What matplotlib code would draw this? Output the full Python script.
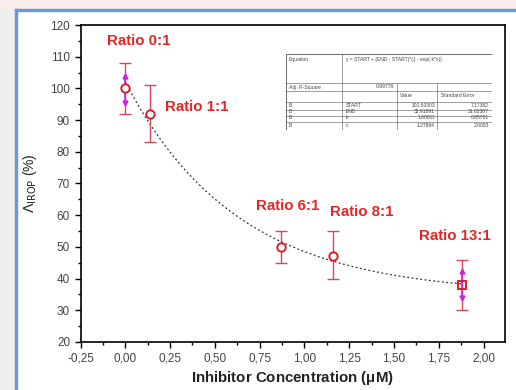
import numpy as np
import matplotlib
matplotlib.use('Agg')
import matplotlib.pyplot as plt
from matplotlib.ticker import MultipleLocator, FuncFormatter
from matplotlib.patches import Rectangle

plt.rcParams['font.family'] = ['Liberation Sans', 'DejaVu Sans']

# data
conc = [0.0, 0.14, 0.87, 1.16, 1.88]
activity = [100, 92, 50, 47, 38]
err_hi = [8, 9, 5, 8, 8]
err_lo = [8, 9, 5, 7, 8]
labels = ['Ratio 0:1', 'Ratio 1:1', 'Ratio 6:1', 'Ratio 8:1', 'Ratio 13:1']
label_x = [-0.10, 0.22, 0.73, 1.145, 1.64]
label_y = [115, 94, 63, 61, 53.5]

# exponential decay fit (start, end, rate)
fit_start, fit_end, fit_k = 102, 35, 1.6

# magenta arrows (x, low, high)
arrow_x = [0.0, 1.88]
arrow_lo = [95.5, 34]
arrow_hi = [104, 42.5]

fig = plt.figure(figsize=(5.16, 3.9), dpi=100, facecolor='white')

# screenshot frame around the chart
fig.patches.append(Rectangle((0, 0), 15 / 516, 1, transform=fig.transFigure,
                             color='#efefef', zorder=0))
fig.patches.append(Rectangle((0, 1 - 9 / 390), 1, 9 / 390, transform=fig.transFigure,
                             color='#f8ede8', zorder=0))
fig.patches.append(Rectangle((15 / 516, 0), 2 / 516, 1 - 9 / 390, transform=fig.transFigure,
                             color='#6a9ade', zorder=1))
fig.patches.append(Rectangle((15 / 516, 1 - 11 / 390), 1, 2 / 390, transform=fig.transFigure,
                             color='#6a9ade', zorder=1))

ax = fig.add_axes([80.5 / 516, 48 / 390, 424.5 / 516, 317 / 390])

xs = np.linspace(conc[0], conc[-1], 200)
ax.plot(xs, fit_end + (fit_start - fit_end) * np.exp(-fit_k * xs),
        ls=(0, (1.5, 2)), color='#333333', lw=0.9, zorder=2)

for i, (x, y) in enumerate(zip(conc, activity)):
    ax.errorbar(x, y, yerr=[[err_lo[i]], [err_hi[i]]], fmt='none',
                ecolor='#d04a5a', elinewidth=1.0, capsize=4, capthick=1.0, zorder=3)

for x, lo, hi in zip(arrow_x, arrow_lo, arrow_hi):
    ax.plot([x, x], [lo, hi], color='#d020e0', lw=1.2, zorder=4)
    ax.plot(x, hi, marker='^', color='#d020e0', ms=3.5, zorder=4)
    ax.plot(x, lo, marker='v', color='#d020e0', ms=3.5, zorder=4)

ax.plot(conc[:-1], activity[:-1], 'o', mfc='white', mec='#d8202a', mew=1.4, ms=6, zorder=5)
ax.plot(conc[-1:], activity[-1:], 's', mfc='none', mec='#d8202a', mew=1.4, ms=5.5, zorder=5)

for t, x, y in zip(labels, label_x, label_y):
    ax.text(x, y, t, color='#e52424', fontsize=10.8, fontweight='bold',
            va='center', ha='left', zorder=6)

ax.set_xlim(-0.25, 2.12)
ax.set_ylim(20, 120)
ax.xaxis.set_major_locator(MultipleLocator(0.25))
ax.xaxis.set_minor_locator(MultipleLocator(0.125))
ax.yaxis.set_major_locator(MultipleLocator(10))
ax.yaxis.set_minor_locator(MultipleLocator(5))
ax.xaxis.set_major_formatter(FuncFormatter(lambda v, p: f'{v:.2f}'.replace('.', ',')))
ax.tick_params(which='major', direction='out', length=4, width=1, labelsize=8.5,
               labelcolor='#444444')
ax.tick_params(which='minor', direction='out', length=2.5, width=1)
for s in ax.spines.values():
    s.set_linewidth(1.2)

ax.set_xlabel('Inhibitor Concentration ($\\mathregular{\\mu}$M)', fontsize=10.8,
              fontweight='bold', color='#222222', labelpad=3)
ax.set_ylabel(r'$\Lambda_{\mathrm{IROP}}$ (%)', fontsize=10, color='#222222', labelpad=8)

# fit results table inset
tab = fig.add_axes([286 / 516, 1 - 130 / 390, 206 / 516, 76 / 390])
tab.set_xlim(0, 206)
tab.set_ylim(76, 0)
tab.axis('off')
lc = '#555555'
tab.add_patch(Rectangle((0, 0), 206, 76, fill=False, ec=lc, lw=0.6))
for yy in [29, 37, 48, 56, 62, 68]:
    tab.plot([0, 206], [yy, yy], color=lc, lw=0.4)
tab.plot([56, 56], [0, 76], color=lc, lw=0.4)
tab.plot([111, 111], [29, 76], color=lc, lw=0.4)
tab.plot([151, 151], [29, 76], color=lc, lw=0.4)
fs = 3.6
tc = '#444444'
tab.text(3, 5, 'Equation', fontsize=fs, color=tc, va='center')
tab.text(60, 5, 'y = START + (END - START)*(1 - exp(-k*x))', fontsize=fs, color=tc, va='center')
tab.text(3, 33, 'Adj. R-Square', fontsize=fs, color=tc, va='center')
tab.text(108, 33, '0.99776', fontsize=fs, color=tc, va='center', ha='right')
tab.text(114, 42, 'Value', fontsize=fs, color=tc, va='center')
tab.text(155, 42, 'Standard Error', fontsize=fs, color=tc, va='center')
rows = [('B', 'START', '101.53303', '7.17382'),
        ('B', 'END', '32.91891', '31.02307'),
        ('B', 'k', '1.60811', '0.85701'),
        ('B', 'c', '1.27884', '2.0083')]
for i, r in enumerate(rows):
    yy = 52 + 6 * i + (2 if i == 3 else 0)
    tab.text(3, yy, r[0], fontsize=fs, color=tc, va='center')
    tab.text(60, yy, r[1], fontsize=fs, color=tc, va='center')
    tab.text(149, yy, r[2], fontsize=fs, color=tc, va='center', ha='right')
    tab.text(203, yy, r[3], fontsize=fs, color=tc, va='center', ha='right')

fig.savefig('out.png', dpi=100, facecolor=fig.get_facecolor())
